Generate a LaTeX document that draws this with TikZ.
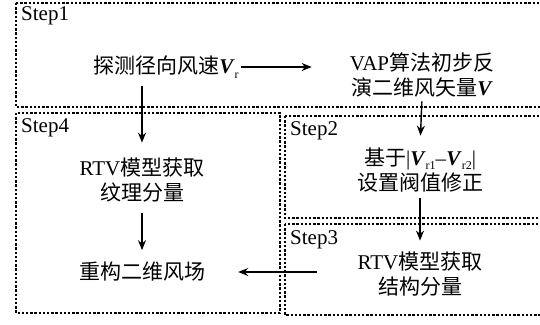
\documentclass[tikz,border=0pt]{standalone}
\usepackage{fontspec}
\setmainfont{Liberation Serif}
\newfontfamily\cjk{Noto Sans CJK SC}
\usetikzlibrary{arrows.meta,calc}
\newcommand\BV{\textbf{\textit{V}}}
\newcommand\subr[1]{\raisebox{-0.45ex}{\fontsize{12}{12}\selectfont #1}}
\begin{document}
\begin{tikzpicture}[x=1pt,y=-1pt,
  font=\fontsize{21}{25}\selectfont,
  stepbox/.style={draw, line width=2.6pt, dash pattern=on 2.4pt off 1.8pt},
  lbl/.style={font=\fontsize{21}{21}\selectfont, anchor=north west, inner sep=0pt},
  txt/.style={align=center, inner sep=0pt},
  arr/.style={-{Stealth[length=10pt,width=8pt]}, line width=1.4pt}]
\useasboundingbox (0,0) rectangle (540,324);
\clip (0,0) rectangle (540,324);
% boxes
\draw[stepbox] (16,3) rectangle (560,107);
\draw[stepbox] (16,113) rectangle (280,313);
\draw[stepbox] (285,116) rectangle (560,218);
\draw[stepbox] (285,224) rectangle (560,315);
% step labels
\node[lbl] (s1) at (21,6) {Step1};
\node[lbl] (s4) at (21,118) {Step4};
\node[lbl] (s2) at (290,121) {Step2};
\node[lbl] (s3) at (290,230) {Step3};
% texts
\node[txt] (n1) at (166,67) {{\cjk 探测径向风速}\BV\subr{r}};
\node[txt] (n2) at (422,75) {VAP{\cjk 算法初步反}\\{\cjk 演二维风矢量}\BV};
\node[txt] (n3) at (420,170) {{\cjk 基于}|\BV\subr{r1}–\BV\subr{r2}|\\{\cjk 设置阀值修正}};
\node[txt] (n4) at (142,180) {RTV{\cjk 模型获取}\\{\cjk 纹理分量}};
\node[txt] (n5) at (420,274) {RTV{\cjk 模型获取}\\{\cjk 结构分量}};
\node[txt] (n6) at (142,272) {{\cjk 重构二维风场}};
% arrows
\draw[arr, shorten <=2pt, shorten >=38pt] (n1.east) -- (n1.east -| n2.west);
\draw[arr, shorten <=8pt, shorten >=15pt] (n1.south -| n4.north) -- (n4.north);
\draw[arr, shorten <=4pt, shorten >=12pt] (n2.south) -- (n3.north);
\draw[arr, shorten <=6pt, shorten >=11pt] (n3.south) -- (n5.north);
\draw[arr, shorten <=11pt, shorten >=12pt] (n4.south) -- (n6.north);
\draw[arr, shorten <=40pt, shorten >=33pt] (n5.west |- n6) -- (n6.east);
\end{tikzpicture}
\end{document}
